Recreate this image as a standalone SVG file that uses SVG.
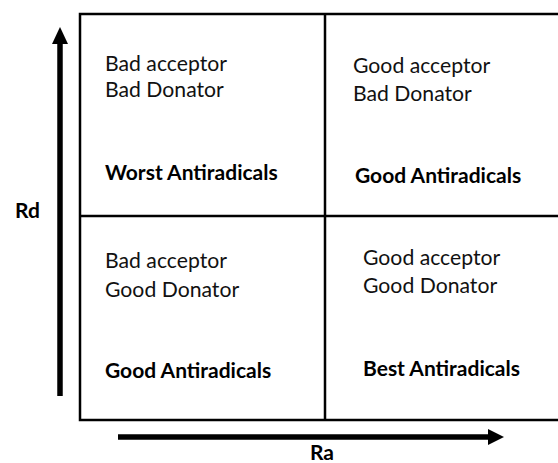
<svg xmlns="http://www.w3.org/2000/svg" width="558" height="463" viewBox="0 0 558 463">
<style>
.t{font-family:Lato,"Liberation Sans",sans-serif;font-size:21.2px;fill:#111}
.b{font-family:Lato,"Liberation Sans",sans-serif;font-size:21px;font-weight:bold;fill:#000}
.grid{stroke:#000;stroke-width:2.5;fill:none}
.ax{stroke:#000;stroke-width:5.5;fill:none}
</style>
<rect width="558" height="463" fill="#fff"/>
<g id="grid">
<rect class="grid" x="80" y="14" width="490" height="406"/>
<line class="grid" x1="325" y1="14" x2="325" y2="420"/>
<line class="grid" x1="80" y1="216" x2="558" y2="216"/>
</g>
<g id="connectors">
<g id="axis-rd">
<line class="ax" x1="60" y1="396" x2="60" y2="40"/>
<polygon points="60,27 68,44 52,44" fill="#000"/>
</g>
<g id="axis-ra">
<line class="ax" x1="118" y1="437" x2="490" y2="437"/>
<polygon points="504,437 488,429 488,445" fill="#000"/>
</g>
</g>
<g id="label-rd"><text class="b" x="15" y="218">Rd</text></g>
<g id="label-ra"><text class="b" x="310" y="460">Ra</text></g>
<g id="q-top-left">
<text class="t" x="105" y="71">Bad acceptor</text>
<text class="t" x="105" y="97">Bad Donator</text>
<text class="b" x="105" y="180">Worst Antiradicals</text>
</g>
<g id="q-top-right">
<text class="t" x="353" y="73">Good acceptor</text>
<text class="t" x="353" y="101">Bad Donator</text>
<text class="b" x="355" y="183">Good Antiradicals</text>
</g>
<g id="q-bottom-left">
<text class="t" x="105" y="268">Bad acceptor</text>
<text class="t" x="105" y="297">Good Donator</text>
<text class="b" x="105" y="378">Good Antiradicals</text>
</g>
<g id="q-bottom-right">
<text class="t" x="363" y="265">Good acceptor</text>
<text class="t" x="363" y="293">Good Donator</text>
<text class="b" x="363" y="376">Best Antiradicals</text>
</g>
</svg>
